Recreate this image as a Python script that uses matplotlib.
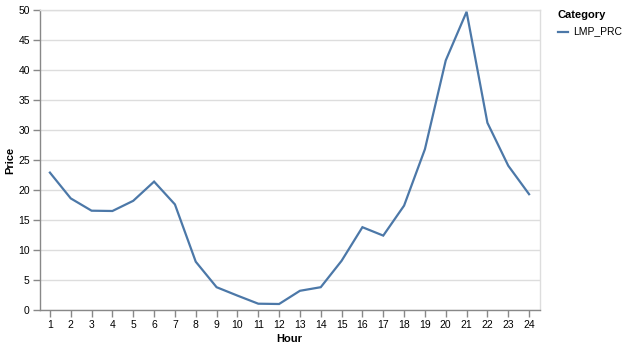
import matplotlib
matplotlib.use("Agg")
import matplotlib.pyplot as plt
from matplotlib.lines import Line2D

hours = list(range(1, 25))
price = [22.9, 18.6, 16.55, 16.5, 18.2, 21.4, 17.6, 8.05, 3.8, 2.4, 1.05, 1.0,
         3.2, 3.8, 8.2, 13.8, 12.4, 17.4, 26.8, 41.6, 49.7, 31.2, 24.05, 19.3]
yticks = list(range(0, 51, 5))
series_name = "LMP_PRC"

plt.rcParams['font.family'] = ['Liberation Sans', 'DejaVu Sans']

W, H = 626, 347
fig = plt.figure(figsize=(W / 100, H / 100), dpi=100)
ax = fig.add_axes([39.5 / W, (H - 310) / H, 500 / W, 300 / H])

ax.plot(hours, price, color='#4c78a8', lw=1.6, solid_joinstyle='miter', zorder=3)
ax.set_xlim(0.5, 24.5)
ax.set_ylim(0, 50)
ax.set_yticks(yticks)
ax.set_xticks(hours)
ax.set_xticklabels([str(h) for h in hours])

ax.grid(axis='y', color='#dddddd', lw=1)
ax.set_axisbelow(True)
for s in ['top', 'right']:
    ax.spines[s].set_color('#dddddd')
    ax.spines[s].set_linewidth(1)
for s in ['left', 'bottom']:
    ax.spines[s].set_color('#888888')
    ax.spines[s].set_linewidth(1)

ax.tick_params(axis='both', colors='#888888', length=5, width=1, labelsize=7.5,
               labelcolor='black', pad=2)
ax.set_xlabel('Hour', fontsize=8, fontweight='bold', labelpad=3)
ax.set_ylabel('Price', fontsize=8, fontweight='bold', labelpad=2)

fig.text(557 / W, 1 - 15 / H, 'Category', fontsize=8, fontweight='bold',
         ha='left', va='center')
fig.add_artist(Line2D([558 / W, 568 / W], [1 - 31.5 / H, 1 - 31.5 / H],
                      color='#4c78a8', lw=1.6, transform=fig.transFigure))
fig.text(573 / W, 1 - 31.5 / H, series_name, fontsize=7.5, ha='left', va='center')

fig.savefig('out.png', dpi=100)
